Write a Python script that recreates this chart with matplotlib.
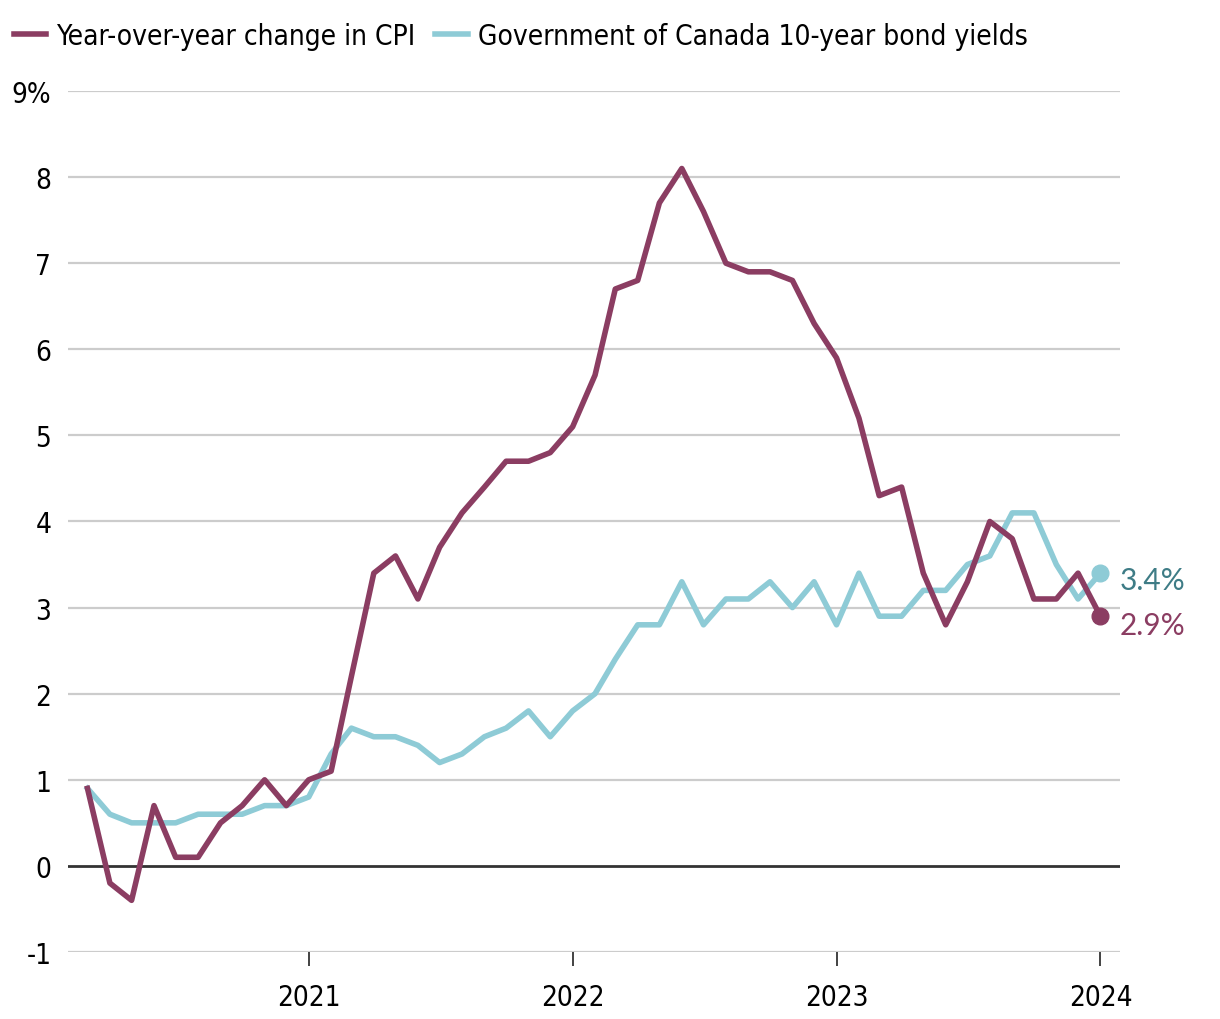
import matplotlib
matplotlib.use("Agg")
import matplotlib.pyplot as plt
import pandas as pd

# Monthly data, March 2020 to January 2024
months = pd.date_range("2020-03-01", "2024-01-01", freq="MS")

cpi = [0.9, -0.2, -0.4, 0.7, 0.1, 0.1, 0.5, 0.7, 1.0, 0.7,
       1.0, 1.1, 2.2, 3.4, 3.6, 3.1, 3.7, 4.1, 4.4, 4.7, 4.7, 4.8,
       5.1, 5.7, 6.7, 6.8, 7.7, 8.1, 7.6, 7.0, 6.9, 6.9, 6.8, 6.3,
       5.9, 5.2, 4.3, 4.4, 3.4, 2.8, 3.3, 4.0, 3.8, 3.1, 3.1, 3.4,
       2.9]
bond = [0.9, 0.6, 0.5, 0.5, 0.5, 0.6, 0.6, 0.6, 0.7, 0.7,
        0.8, 1.3, 1.6, 1.5, 1.5, 1.4, 1.2, 1.3, 1.5, 1.6, 1.8, 1.5,
        1.8, 2.0, 2.4, 2.8, 2.8, 3.3, 2.8, 3.1, 3.1, 3.3, 3.0, 3.3,
        2.8, 3.4, 2.9, 2.9, 3.2, 3.2, 3.5, 3.6, 4.1, 4.1, 3.5, 3.1,
        3.4]

y_ticks = [-1, 0, 1, 2, 3, 4, 5, 6, 7, 8, 9]
y_labels = ["-1", "0", "1", "2", "3", "4", "5", "6", "7", "8", "9%"]
x_ticks = pd.to_datetime(["2021-01-01", "2022-01-01", "2023-01-01", "2024-01-01"])
x_labels = ["2021", "2022", "2023", "2024"]

cpi_color = "#8b3d62"
bond_color = "#8ecbd6"
cpi_text = "#8b3d62"
bond_text = "#3e7c86"

plt.rcParams["font.family"] = ["DejaVu Sans"]
plt.rcParams["font.stretch"] = "condensed"

fig = plt.figure(figsize=(12.2, 10.2), dpi=100)
ax = fig.add_axes([0.0557, 0.0657, 0.8623, 0.8441])

# Gridlines and zero line
for t in y_ticks:
    if t == 0:
        ax.axhline(t, color="#333333", lw=2.0, zorder=2)
    else:
        ax.axhline(t, color="#cccccc", lw=1.6, zorder=1)

ax.plot(months, bond, color=bond_color, lw=4.0, zorder=3,
        label="Government of Canada 10-year bond yields")
ax.plot(months, cpi, color=cpi_color, lw=4.0, zorder=4,
        label="Year-over-year change in CPI")

# Endpoint markers and labels
ax.plot(months[-1], bond[-1], "o", color=bond_color, ms=12, zorder=5)
ax.plot(months[-1], cpi[-1], "o", color=cpi_color, ms=12, zorder=6)
ax.annotate(f"{bond[-1]:.1f}%", (months[-1], bond[-1]), xytext=(14, -5),
            textcoords="offset points", va="center", ha="left",
            fontsize=21.5, color=bond_text, family=["Lato", "DejaVu Sans"],
            fontstretch="normal")
ax.annotate(f"{cpi[-1]:.1f}%", (months[-1], cpi[-1]), xytext=(14, -6),
            textcoords="offset points", va="center", ha="left",
            fontsize=21.5, color=cpi_text, family=["Lato", "DejaVu Sans"],
            fontstretch="normal")

ax.set_xlim(pd.Timestamp("2020-02-03"), pd.Timestamp("2024-01-28"))
ax.set_ylim(-1, 9)
ax.set_yticks(y_ticks)
ax.set_yticklabels(y_labels, fontsize=20)
ax.set_xticks(x_ticks)
ax.set_xticklabels(x_labels, fontsize=20)
ax.tick_params(axis="y", length=0, pad=12)
ax.tick_params(axis="x", length=10, width=1.2, color="#222222", pad=12)
for s in ax.spines.values():
    s.set_visible(False)

# Legend
handles, labels = ax.get_legend_handles_labels()
fig.legend(handles[::-1], labels[::-1], loc="upper left", bbox_to_anchor=(0.0, 0.991),
           ncol=2, frameon=False, fontsize=20.2, handlelength=1.15,
           handletextpad=0.36, columnspacing=0.7, borderaxespad=0.1)

fig.savefig("out.png", dpi=100)
